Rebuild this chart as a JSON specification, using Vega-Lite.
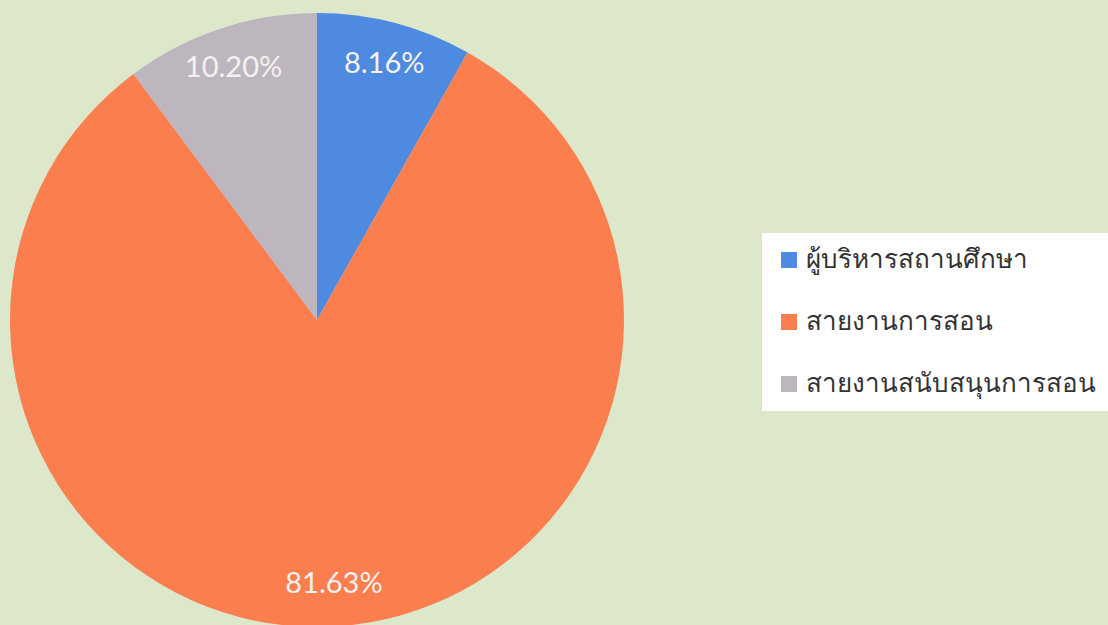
{
  "$schema": "https://vega.github.io/schema/vega-lite/v6.json",
  "width": 634,
  "height": 610,
  "autosize": "none",
  "padding": {"left": 0, "top": 15, "right": 474, "bottom": 0},
  "background": "#dde8cb",
  "config": {"view": {"stroke": null}},
  "data": {
    "values": [
      {"group": "ผู้บริหารสถานศึกษา", "pct": 8.16, "label": "8.16%", "ord": 1},
      {"group": "สายงานการสอน", "pct": 81.63, "label": "81.63%", "ord": 2},
      {"group": "สายงานสนับสนุนการสอน", "pct": 10.20, "label": "10.20%", "ord": 3}
    ]
  },
  "encoding": {
    "theta": {"field": "pct", "type": "quantitative", "stack": true},
    "order": {"field": "ord", "type": "quantitative"},
    "color": {
      "field": "group",
      "type": "nominal",
      "sort": ["ผู้บริหารสถานศึกษา", "สายงานการสอน", "สายงานสนับสนุนการสอน"],
      "scale": {
        "domain": ["ผู้บริหารสถานศึกษา", "สายงานการสอน", "สายงานสนับสนุนการสอน"],
        "range": ["#4d8ae0", "#fa7e4e", "#bdb6bf"]
      },
      "legend": {
        "title": null,
        "orient": "none",
        "legendX": 762,
        "legendY": 218,
        "fillColor": "#ffffff",
        "padding": 14,
        "symbolType": "square",
        "symbolSize": 256,
        "symbolStrokeWidth": 0,
        "labelFont": "Noto Sans",
        "labelFontSize": 26,
        "labelColor": "#333333",
        "labelOffset": 4,
        "rowPadding": 36,
        "labelLimit": 400
      }
    }
  },
  "layer": [
    {"mark": {"type": "arc", "outerRadius": 307}},
    {
      "mark": {"type": "text", "radius": 265, "fontSize": 29, "font": "Lato", "fill": "#f4f1ee"},
      "encoding": {"text": {"field": "label"}, "color": {"value": "#f4f1ee"}}
    }
  ]
}
